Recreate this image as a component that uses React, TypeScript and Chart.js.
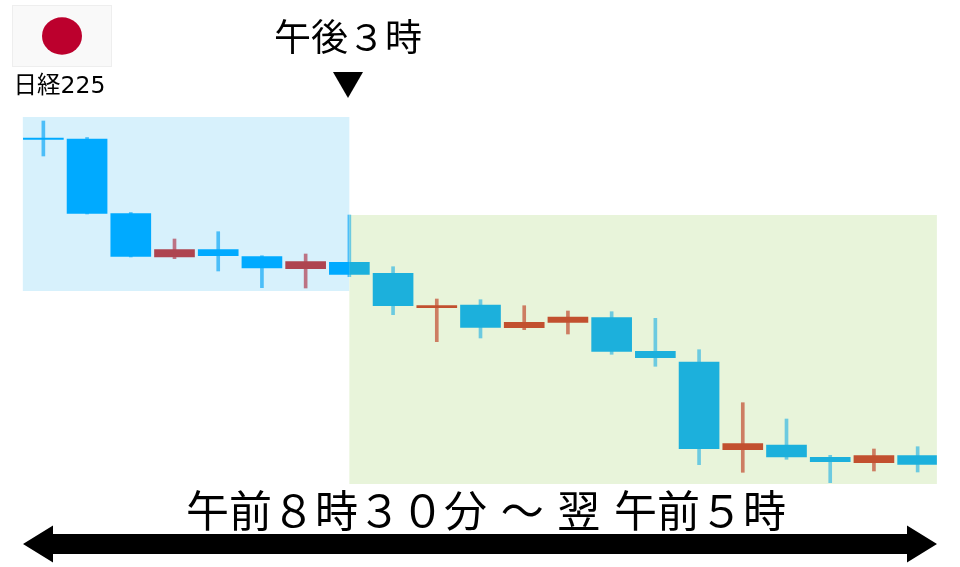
import React, { useEffect, useRef } from "react";
import { Chart, registerables } from "chart.js";

Chart.register(...registerables);

// Session candles, in chart units (0 at the foot of the picture).
const sessions = ["1","2","3","4","5","6","7","8","9","10","11","12","13","14","15","16","17","18","19","20","21"];
const opens = [429.0,428.0,353.5,310.0,317.3,310.3,298.3,304.7,293.7,259.3,262.0,239.3,244.7,249.3,215.7,205.0,117.3,122.0,109.7,104.3,111.3];
const closes = [427.5,353.5,310.5,317.3,311.3,299.0,305.3,292.7,261.3,261.3,239.7,244.7,250.0,215.7,209.3,118.3,123.3,110.0,105.3,111.3,102.7];
const highs = [446.0,429.5,354.5,328.0,335.3,311.3,313.0,352.0,300.3,268.0,267.3,261.3,256.0,255.3,248.7,217.3,164.3,148.0,111.7,118.0,120.3];
const lows = [411.0,353.0,310.0,308.3,296.0,279.3,279.0,290.3,252.3,225.3,229.0,237.3,233.0,212.7,200.7,102.3,94.7,107.7,84.3,96.0,95.0];

// Shaded periods: [first session edge, last session edge, bottom, top].
const morningSpan = [-0.47, 7, 276, 450];
const nightSpan = [7, 20.44, 83, 352];

const topLabel = "午後３時";
const marker = "▼";
const indexLabel = "日経225";
const spanLabel = "午前８時３０分 ～ 翌 午前５時";

const palette = {
  morning: { down: "#00AAFF", up: "#AE4450", downWick: "#4CBEF8", upWick: "#BC7384", fill: "#D7F1FC" },
  night: { down: "#1CB0DC", up: "#C2502F", downWick: "#6CCAE0", upWick: "#CD7D62", fill: "#E8F4DA" },
};

const CJK = '"DejaVu Sans", "Noto Sans CJK JP", sans-serif';

function spanRect(chart: any, s: number[]) {
  const xs = chart.scales.x;
  const ys = chart.scales.y;
  const step = xs.getPixelForValue(1) - xs.getPixelForValue(0);
  const x0 = xs.getPixelForValue(0) + s[0] * step;
  const x1 = xs.getPixelForValue(0) + s[1] * step;
  return { x0, x1, y0: ys.getPixelForValue(s[3]), y1: ys.getPixelForValue(s[2]) };
}

const decor = {
  id: "decor",
  beforeDatasetsDraw(chart: any) {
    const ctx = chart.ctx;
    const a = spanRect(chart, morningSpan);
    const b = spanRect(chart, nightSpan);
    ctx.save();
    ctx.fillStyle = palette.morning.fill;
    ctx.fillRect(a.x0, a.y0, a.x1 - a.x0, a.y1 - a.y0);
    ctx.fillStyle = palette.night.fill;
    ctx.fillRect(b.x0, b.y0, b.x1 - b.x0, b.y1 - b.y0);
    ctx.restore();
  },
  beforeDatasetDraw(chart: any, args: any) {
    const ds = chart.data.datasets[args.index] as any;
    const r = spanRect(chart, ds.period === "morning" ? morningSpan : nightSpan);
    const ctx = chart.ctx;
    ctx.save();
    ctx.beginPath();
    ctx.rect(r.x0, 0, r.x1 - r.x0, chart.height);
    ctx.clip();
    ctx.filter = "blur(0.5px)";
  },
  afterDatasetDraw(chart: any) {
    chart.ctx.restore();
  },
  afterDraw(chart: any) {
    const ctx = chart.ctx;
    ctx.save();
    // Flag
    ctx.fillStyle = "#F9F9F9";
    ctx.strokeStyle = "#EEEEEE";
    ctx.fillRect(12, 5, 100, 62);
    ctx.strokeRect(12.5, 5.5, 99, 61);
    ctx.fillStyle = "#BC002D";
    ctx.beginPath();
    ctx.ellipse(62, 36, 20, 18.7, 0, 0, Math.PI * 2);
    ctx.fill();
    // Texts
    ctx.fillStyle = "#000000";
    ctx.textBaseline = "alphabetic";
    ctx.textAlign = "left";
    ctx.font = `23.5px ${CJK}`;
    ctx.fillText(indexLabel, 13.5, 93);
    ctx.font = `37px ${CJK}`;
    ctx.fillText(topLabel, 274, 51);
    ctx.font = `43px ${CJK}`;
    ctx.fillText(spanLabel, 186, 527);
    ctx.textAlign = "center";
    ctx.font = `32px "Noto Sans CJK JP"`;
    ctx.fillText(marker, 348, 96);
    // Double arrow
    ctx.beginPath();
    ctx.moveTo(23, 544);
    ctx.lineTo(53, 525.5);
    ctx.lineTo(53, 534);
    ctx.lineTo(907, 534);
    ctx.lineTo(907, 525.5);
    ctx.lineTo(937, 544);
    ctx.lineTo(907, 562.5);
    ctx.lineTo(907, 554);
    ctx.lineTo(53, 554);
    ctx.lineTo(53, 562.5);
    ctx.closePath();
    ctx.fill();
    ctx.restore();
  },
};

function series(period: "morning" | "night", from: number, to: number) {
  const p = palette[period];
  const inRange = (i: number) => i >= from && i <= to;
  const isUp = (i: number) => closes[i] > opens[i];
  const wicks = {
    period,
    label: `${period} range`,
    data: sessions.map((_, i) => (inRange(i) ? [lows[i], highs[i]] : null)),
    backgroundColor: sessions.map((_, i) => (isUp(i) ? p.upWick : p.downWick)),
    barThickness: 3,
    order: 2,
  };
  const bodies = {
    period,
    label: `${period} body`,
    data: sessions.map((_, i) => (inRange(i) ? [Math.min(opens[i], closes[i]), Math.max(opens[i], closes[i])] : null)),
    backgroundColor: sessions.map((_, i) => (isUp(i) ? p.up : p.down)),
    barThickness: 40,
    order: 1,
  };
  return [wicks, bodies];
}

export default function App() {
  const ref = useRef<HTMLCanvasElement>(null);
  useEffect(() => {
    const chart = new Chart(ref.current as HTMLCanvasElement, {
      type: "bar",
      data: {
        labels: sessions,
        datasets: [...series("morning", 0, 7), ...series("night", 7, 20)] as any,
      },
      options: {
        responsive: false,
        animation: false,
        devicePixelRatio: 1,
        layout: { padding: { left: 21.5, right: 20.5, top: 0, bottom: 0 } },
        datasets: { bar: { grouped: false, minBarLength: 1.5 } } as any,
        plugins: { legend: { display: false }, tooltip: { enabled: false }, title: { display: false } },
        scales: {
          x: { type: "category", display: false, offset: true },
          y: { type: "linear", display: false, min: 0, max: 567 },
        },
      },
      plugins: [decor],
    });
    return () => chart.destroy();
  }, []);
  return (
    <div style={{ position: "fixed", left: 0, top: 0, width: 960, height: 567, background: "#FFFFFF" }}>
      <canvas ref={ref} width={960} height={567} style={{ display: "block" }} />
    </div>
  );
}
